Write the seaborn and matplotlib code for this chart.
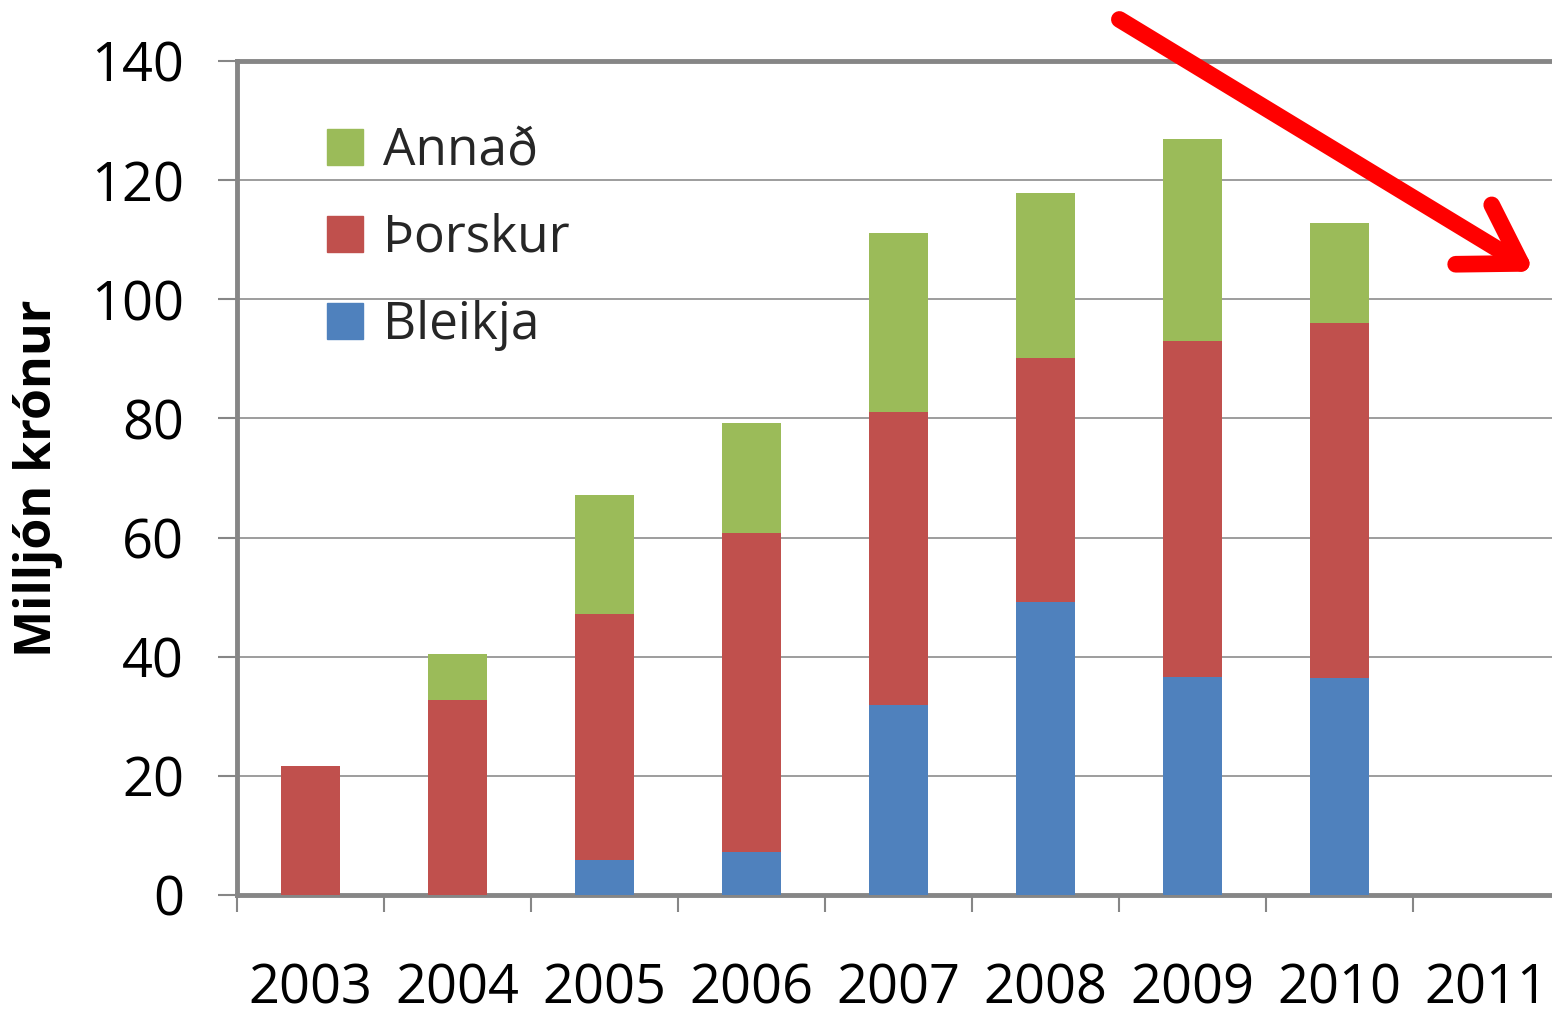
import matplotlib
matplotlib.use('Agg')
import matplotlib.pyplot as plt
import matplotlib.patches as mpatches
import numpy as np
import pandas as pd
import seaborn as sns

# Data (milljón krónur)
years = ['2003', '2004', '2005', '2006', '2007', '2008', '2009', '2010', '2011']
bleikja = [0, 0, 5.9, 7.2, 31.9, 49.2, 36.6, 36.4, 0]
thorskur = [21.7, 32.7, 41.3, 53.6, 49.2, 40.9, 56.4, 59.6, 0]
annad = [0, 7.8, 19.9, 18.4, 30.0, 27.7, 33.9, 16.8, 0]

c_blue = '#4F81BD'
c_red = '#C0504D'
c_green = '#9BBB59'
grey = '#868686'

sns.set_theme(style='white')
plt.rcParams['font.family'] = ['Open Sans', 'DejaVu Sans']

df = pd.DataFrame({'year': years, 'Bleikja': bleikja,
                   'Þorskur': thorskur, 'Annað': annad})
df['top_red'] = df['Bleikja'] + df['Þorskur']
df['top_green'] = df['top_red'] + df['Annað']

fig = plt.figure(figsize=(15.52, 10.16), dpi=100)
ax = fig.add_axes([237 / 1552, 1 - 895 / 1016, 1323 / 1552, (895 - 61) / 1016])

# stacked bars drawn as layered cumulative totals
for col, c in [('top_green', c_green), ('top_red', c_red), ('Bleikja', c_blue)]:
    sns.barplot(data=df, x='year', y=col, color=c, width=0.4, saturation=1,
                ax=ax, order=years, zorder=3, linewidth=0, edgecolor='none')

ax.set_xlim(-0.5, 8.5)
ax.set_ylim(0, 140)
ax.set_yticks(np.arange(0, 141, 20))
ax.yaxis.grid(True, color='#8c8c8c', linewidth=1.2, zorder=0)
ax.set_axisbelow(True)

for side in ['left', 'bottom', 'top', 'right']:
    ax.spines[side].set_color(grey)
    ax.spines[side].set_linewidth(3.5)

ax.tick_params(axis='y', length=14, width=1.5, color=grey, labelsize=39,
               pad=24, left=True)
ax.tick_params(axis='x', which='major', length=0, labelsize=39, pad=48)
ax.set_xticks(np.arange(-0.5, 9, 1), minor=True)
ax.tick_params(axis='x', which='minor', length=12, width=1.5, color=grey,
               bottom=True)
for lab in ax.get_xticklabels() + ax.get_yticklabels():
    lab.set_color('black')

ax.set_xlabel('')
ax.set_ylabel('Milljón krónur', fontsize=36, fontweight='bold', labelpad=20,
              color='black')

handles = [mpatches.Patch(color=c_green, label='Annað'),
           mpatches.Patch(color=c_red, label='Þorskur'),
           mpatches.Patch(color=c_blue, label='Bleikja')]
ax.legend(handles=handles, loc='upper left', bbox_to_anchor=(0.033, 0.978),
          frameon=False, fontsize=37, handlelength=0.7, handleheight=0.7,
          labelspacing=0.7, handletextpad=0.4)

# red arrow pointing down to 2011
fig.patches.append(mpatches.FancyArrowPatch(
    (1117 / 1552, 1 - 18 / 1016), (1537 / 1552, 1 - 273 / 1016),
    transform=fig.transFigure, arrowstyle='->,head_length=0.8,head_width=0.5',
    mutation_scale=50, color='#FF0000', linewidth=12, capstyle='round',
    joinstyle='round'))

fig.savefig('out.png', dpi=100)
